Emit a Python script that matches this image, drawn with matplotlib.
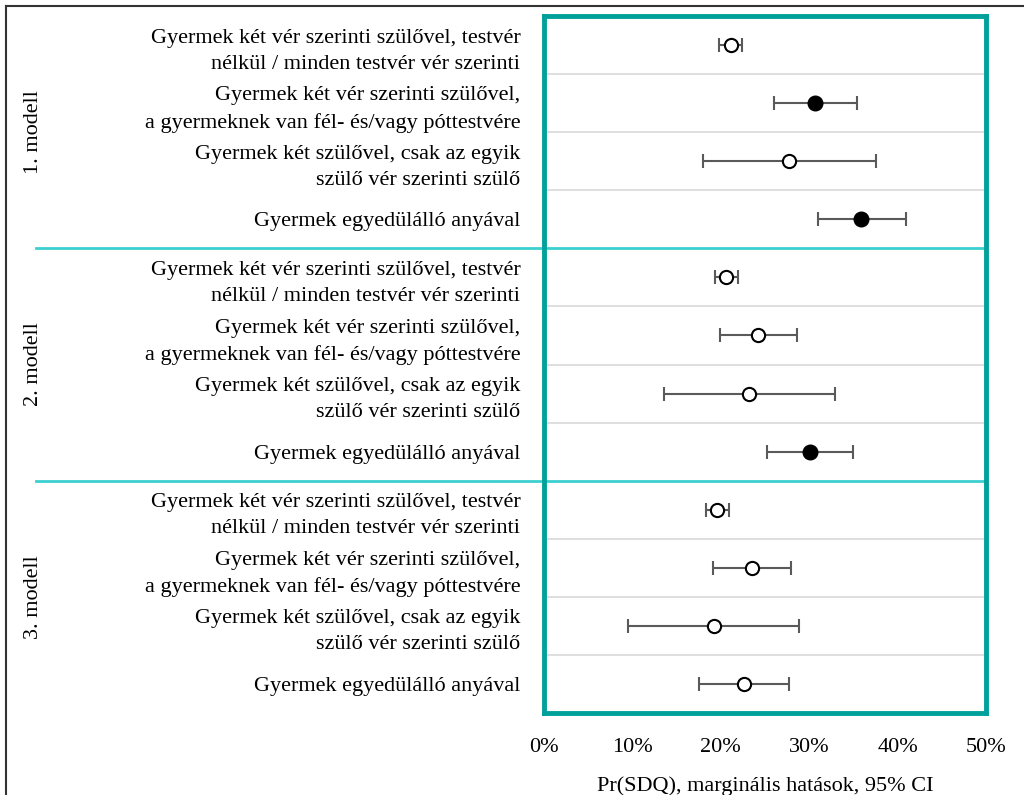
import matplotlib
matplotlib.use("Agg")
from matplotlib import pyplot as plt
from matplotlib.lines import Line2D
import numpy as np

# category labels (same four in each model)
labels = [
    "Gyermek két vér szerinti szülővel, testvér\nnélkül / minden testvér vér szerinti",
    "Gyermek két vér szerinti szülővel,\na gyermeknek van fél- és/vagy póttestvére",
    "Gyermek két szülővel, csak az egyik\nszülő vér szerinti szülő",
    "Gyermek egyedülálló anyával",
]
models = ["1. modell", "2. modell", "3. modell"]

# marginal effects (%) and 95% CI, rows top to bottom
est = [21.1, 30.7, 27.7, 35.9,
       20.6, 24.2, 23.2, 30.1,
       19.6, 23.5, 19.2, 22.6]
lo = [19.8, 26.0, 18.0, 31.0,
      19.3, 19.9, 13.6, 25.2,
      18.3, 19.1, 9.5, 17.5]
hi = [22.4, 35.4, 37.5, 40.9,
      21.9, 28.6, 32.9, 35.0,
      20.9, 27.9, 28.9, 27.7]
# significant -> filled marker
signif = [False, True, False, True,
          False, False, False, True,
          False, False, False, False]

plt.rcParams['font.family'] = ['Liberation Serif', 'DejaVu Serif']
fs = 16

fig = plt.figure(figsize=(10.24, 7.95), dpi=100)
ax = fig.add_axes([544/1024, 1-713/795, 442/1024, 697/795])

teal = "#00A19A"
cyan = "#3CCFCF"

n = len(est)
ypos = np.arange(1, n+1)
est = np.array(est); lo = np.array(lo); hi = np.array(hi)

# row separators
for k in range(1, n):
    if k % 4 == 0:
        ax.add_line(Line2D([-508/442, 1], [k+0.5, k+0.5], transform=ax.get_yaxis_transform(),
                           color=cyan, lw=2, clip_on=False, zorder=1))
    else:
        ax.axhline(k+0.5, color="#d9d9d9", lw=1.2, zorder=0)

ax.errorbar(est, ypos, xerr=[est-lo, hi-est], fmt="none", ecolor="#5a5a5a",
            elinewidth=1.5, capsize=5, capthick=1.5, zorder=2)
for x, y, s in zip(est, ypos, signif):
    if s:
        ax.plot(x, y, "o", ms=10.5, mfc="black", mec="black", zorder=3)
    else:
        ax.plot(x, y, "o", ms=9.5, mfc="white", mec="black", mew=1.5, zorder=3)

ax.set_xlim(0, 50)
ax.set_ylim(n+0.5, 0.5)
ax.set_xticks([0, 10, 20, 30, 40, 50])
ax.set_xticklabels([f"{v}%" for v in [0, 10, 20, 30, 40, 50]], fontsize=fs)
ax.set_yticks(ypos)
ax.set_yticklabels(labels*3, fontsize=fs, linespacing=1.5)
ax.tick_params(axis="both", length=0)
ax.tick_params(axis="y", pad=17)
ax.tick_params(axis="x", pad=18)
for s in ax.spines.values():
    s.set_color(teal)
    s.set_linewidth(3.5)

ax.set_xlabel("Pr(SDQ), marginális hatások, 95% CI", fontsize=fs, labelpad=14)

# model labels on the left
for i, m in enumerate(models):
    yc = 1 - (16 + (i*4+2)*697/12) / 795
    fig.text(34/1024, yc, m, rotation=90, ha="center", va="center", fontsize=fs)

# outer frame (top and left visible)
fig.add_artist(Line2D([6/1024, 6/1024], [0, 1-6/795], transform=fig.transFigure, color="#333333", lw=1.5))
fig.add_artist(Line2D([6/1024, 1], [1-6/795, 1-6/795], transform=fig.transFigure, color="#333333", lw=1.5))

fig.savefig("out.png", dpi=100, facecolor="white")
